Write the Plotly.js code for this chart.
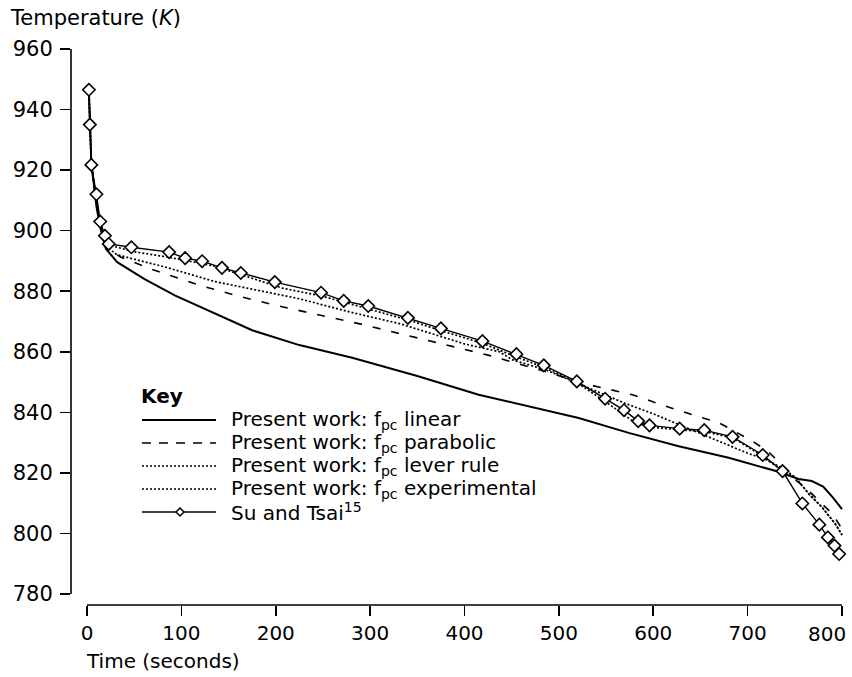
<!DOCTYPE html>
<html>
<head>
<meta charset="utf-8">
<script src="https://cdn.plot.ly/plotly-3.0.1.min.js"></script>
<style>html,body{margin:0;padding:0;background:#fff;}#chart{width:852px;height:677px;}</style>
</head>
<body>
<div id="chart"></div>
<script>
// ---- Data ----
const tLinear = [2, 3, 4.6, 7, 10, 14, 18, 20, 32, 50, 61, 93, 119, 175, 225, 281, 350, 415, 521, 574, 627, 680, 730, 754, 768, 780, 790, 800];
const TLinear = [946, 935, 922, 916, 908, 901, 896, 894, 889.6, 886, 884, 878.6, 875, 867.1, 862.2, 858, 852, 845.8, 838.1, 833.2, 828.8, 825, 820.6, 818, 817.3, 815.5, 812, 808];

const tParabolic = [2, 3, 4.6, 7, 10, 14, 18, 20, 36, 68, 120, 161, 203, 249, 292, 338, 380, 426, 480, 532, 578, 624, 670, 705, 722, 735, 744, 765, 790, 800];
const TParabolic = [946, 935, 922, 916, 909, 902, 897, 894.5, 891.2, 887.3, 881.9, 878.3, 875.1, 871.9, 869, 865.5, 862.2, 858.8, 854, 849.1, 845.8, 840.9, 836.5, 830.5, 827, 823, 819.5, 814, 806.4, 801.5];

const tLever = [2, 3, 4.6, 7, 10, 14, 18, 20, 32, 85, 135, 200, 225, 280, 331, 401, 437, 451, 486, 528, 570, 600, 650, 700, 720, 740, 751, 765, 779, 793, 800];
const TLever = [946, 935, 922, 916, 910, 902, 897, 894.8, 892, 887.8, 883.2, 879, 877.5, 873, 869.3, 862.5, 860, 857.3, 854, 848.5, 843, 839.5, 833, 826.5, 824.3, 821, 818.4, 813, 808.6, 803.1, 799.5];

const tExperimental = [2, 3, 4.6, 7, 10, 14, 18, 20, 50, 85, 135, 207, 250, 295, 340, 375, 419, 454, 483, 519, 549, 581, 600, 630, 655, 685, 716, 737, 751, 765, 779, 793, 800];
const TExperimental = [946, 935, 922, 916, 910, 902, 897, 895.5, 893, 891.3, 888.3, 881, 878.3, 874.3, 870.5, 867, 862.8, 858.4, 855, 849.8, 843.6, 836.5, 835, 834.2, 833.6, 831.5, 825.5, 820.6, 818.4, 813, 808.6, 803.1, 799.5];

const tSuTsai = [2, 3, 4.6, 10, 14, 19, 23, 47, 87, 104, 122, 143, 163, 199, 248, 272, 298, 340, 375, 419, 455, 484, 519, 549, 569, 584, 596, 628, 654, 684, 716, 737, 758, 776, 785, 792, 797];
const TSuTsai = [946.5, 935, 921.7, 912, 903, 898.3, 895.6, 894.5, 892.9, 890.9, 889.9, 887.7, 886, 883, 879.5, 876.8, 875.1, 871.2, 867.7, 863.5, 859.2, 855.5, 850.2, 844.5, 840.7, 837.1, 835.7, 834.6, 834.1, 831.9, 825.9, 820.6, 809.9, 802.9, 798.7, 796, 793.2];

const xTicks = [0, 100, 200, 300, 400, 500, 600, 700, 800];
const xTickLabels = ['0', '100', '200', '300', '400', '500', '600', '700', '800'];
const yTicks = [780, 800, 820, 840, 860, 880, 900, 920, 940, 960];

const legendLabels = [
  'Present work: f<sub>pc</sub> linear',
  'Present work: f<sub>pc</sub> parabolic',
  'Present work: f<sub>pc</sub> lever rule',
  'Present work: f<sub>pc</sub> experimental',
  'Su and Tsai<sup>15</sup>'
];

// ---- Layout geometry ----
const FW = 852, FH = 677;
const L = 71, R = 8, T = 48, B = 72;
const W = FW - L - R, H = FH - T - B;
const PXU = 755 / 800;               // pixels per second
const xMin = -16 / PXU;
const xMax = 800 + 2 / PXU;
const px = x => (x - L) / W;
const py = y => 1 - (y - T) / H;
const FONT = 'DejaVu Sans, Arial, sans-serif';

const traces = [
  {x: tLinear, y: TLinear, mode: 'lines', line: {color: '#000', width: 2}, name: legendLabels[0]},
  {x: tParabolic, y: TParabolic, mode: 'lines', line: {color: '#000', width: 1.6, dash: '8px,11px'}, name: legendLabels[1]},
  {x: tLever, y: TLever, mode: 'lines', line: {color: '#000', width: 1.7, dash: '2px,2px'}, name: legendLabels[2]},
  {x: tExperimental, y: TExperimental, mode: 'lines', line: {color: '#000', width: 1.7, dash: '2px,2px'}, name: legendLabels[3]},
  {x: tSuTsai, y: TSuTsai, mode: 'lines+markers', cliponaxis: false,
   line: {color: '#000', width: 1.4},
   marker: {symbol: 'diamond', size: 9.5, color: '#fff', line: {color: '#000', width: 1.6}},
   name: legendLabels[4]}
];

// manual legend ("Key")
const legY = [420, 443, 466, 489, 512];
const legDash = ['solid', '9px,8px', '2px,2px', '2px,2px', 'solid'];
const shapes = [
  {type: 'line', xref: 'paper', yref: 'y', x0: 0, x1: 0, y0: 780, y1: 960, line: {color: '#000', width: 1.6}},
  {type: 'line', xref: 'x', yref: 'paper', x0: 0, x1: 800, y0: 0, y1: 0, line: {color: '#000', width: 1.6}}
];
const annotations = [
  {xref: 'paper', yref: 'paper', x: px(8), y: py(18), xanchor: 'left', yanchor: 'middle', showarrow: false,
   text: 'Temperature (<i>K</i>)', font: {family: FONT, size: 21, color: '#000'}},
  {xref: 'paper', yref: 'paper', x: px(84), y: py(661), xanchor: 'left', yanchor: 'middle', showarrow: false,
   text: 'Time (seconds)', font: {family: FONT, size: 20, color: '#000'}},
  {xref: 'paper', yref: 'paper', x: px(139), y: py(396), xanchor: 'left', yanchor: 'middle', showarrow: false,
   text: '<b>Key</b>', font: {family: FONT, size: 20, color: '#000'}},
  // last x tick label, placed inside the figure (it sits left of its tick in the reference)
  {xref: 'paper', yref: 'paper', x: px(827), y: py(634), xanchor: 'center', yanchor: 'middle', showarrow: false,
   text: xTickLabels[8], font: {family: FONT, size: 20, color: '#000'}}
];
legendLabels.forEach((lab, i) => {
  const yy = legY[i];
  shapes.push({type: 'line', xref: 'paper', yref: 'paper', x0: px(142), x1: px(216), y0: py(yy), y1: py(yy),
    line: {color: '#000', width: i === 0 ? 2 : 1.5, dash: legDash[i]}});
  annotations.push({xref: 'paper', yref: 'paper', x: px(229), y: py(yy), xanchor: 'left', yanchor: 'middle',
    showarrow: false, text: lab, font: {family: FONT, size: 20, color: '#000'}});
});
// legend diamond for Su and Tsai
(function () {
  const cx = 180, cy = legY[4], r = 4;
  const p = [[cx, cy - r], [cx + r, cy], [cx, cy + r], [cx - r, cy]].map(([a, b]) => px(a) + ',' + py(b));
  shapes.push({type: 'path', xref: 'paper', yref: 'paper', path: 'M' + p.join(' L') + ' Z',
    fillcolor: '#fff', line: {color: '#000', width: 1.5}});
})();

const layout = {
  width: FW, height: FH,
  margin: {l: L, r: R, t: T, b: B, pad: 0},
  paper_bgcolor: '#fff', plot_bgcolor: '#fff',
  showlegend: false,
  xaxis: {
    range: [xMin, xMax], tickvals: xTicks,
    ticktext: xTickLabels.map((s, i) => (i === xTickLabels.length - 1 ? ' ' : s)),
    showgrid: false, zeroline: false, showline: false,
    ticks: 'outside', ticklen: 10, tickwidth: 1.6, tickcolor: '#000',
    tickfont: {family: FONT, size: 20, color: '#000'}
  },
  yaxis: {
    range: [780 - 11 / (546 / 180), 960.3], tickvals: yTicks, ticktext: yTicks.map(String),
    showgrid: false, zeroline: false, showline: false,
    ticks: 'outside', ticklen: 10, tickwidth: 1.6, tickcolor: '#000',
    tickfont: {family: FONT, size: 21, color: '#000'}, ticklabelstandoff: 3
  },
  shapes: shapes,
  annotations: annotations
};

Plotly.newPlot('chart', traces, layout, {displayModeBar: false, staticPlot: true});
</script>
</body>
</html>
